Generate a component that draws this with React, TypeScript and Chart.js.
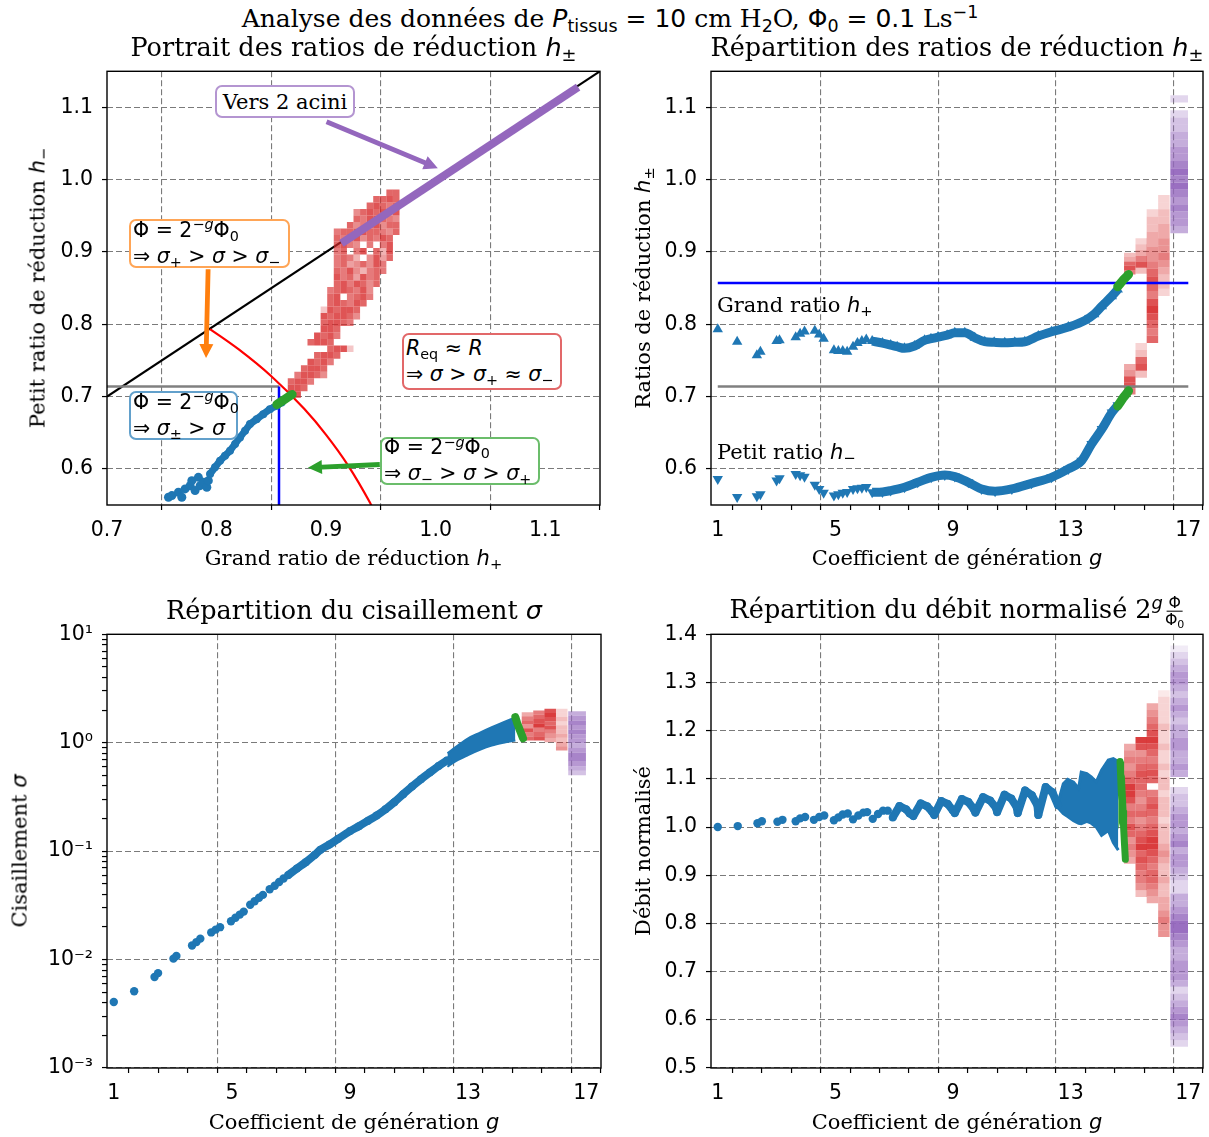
import React, { useEffect, useRef } from 'react';
import { Chart, registerables } from 'chart.js';

Chart.register(...registerables);

/* ======================= DATA ======================= */

// ---- shared axes ----
const gTicks = [1, 2, 3, 4, 5, 6, 7, 8, 9, 10, 11, 12, 13, 14, 15, 16, 17];
const gMajor = [1, 5, 9, 13, 17];
const gMajorLabels = ['1', '5', '9', '13', '17'];
const gRange = [0.77, 17.5];

const hTicks = [0.6, 0.7, 0.8, 0.9, 1.0, 1.1];
const hTickLabels = ['0.6', '0.7', '0.8', '0.9', '1.0', '1.1'];
const hRange = [0.55, 1.15];

const tlXTicks = [0.7, 0.8, 0.9, 1.0, 1.1];
const tlXTickLabels = ['0.7', '0.8', '0.9', '1.0', '1.1'];
const tlXRange = [0.7, 1.15];

const sigmaMajor = [0.001, 0.01, 0.1, 1, 10];
const sigmaMajorLabels = ['10⁻³', '10⁻²', '10⁻¹', '10⁰', '10¹'];
const sigmaMinor = [
  0.002, 0.003, 0.004, 0.005, 0.006, 0.007, 0.008, 0.009,
  0.02, 0.03, 0.04, 0.05, 0.06, 0.07, 0.08, 0.09,
  0.2, 0.3, 0.4, 0.5, 0.6, 0.7, 0.8, 0.9,
  2, 3, 4, 5, 6, 7, 8, 9,
];
const sigmaRange = [0.001, 10];

const debitTicks = [0.5, 0.6, 0.7, 0.8, 0.9, 1.0, 1.1, 1.2, 1.3, 1.4];
const debitTickLabels = ['0.5', '0.6', '0.7', '0.8', '0.9', '1.0', '1.1', '1.2', '1.3', '1.4'];
const debitRange = [0.5, 1.4];

// ---- column bins (generations 15-17) ----
const redColG = [15.01, 15.4, 15.78, 16.17];
const redColWidth = 0.39;
const purpleColG = 16.69;
const purpleColWidth = 0.6;

// ---- Panel TL : portrait h+ / h- ----
const tlDiagX = [0.7, 1.15];
const tlDiagY = [0.7, 1.15];
const tlMurrayX = [0.794, 0.82, 0.85, 0.88, 0.9, 0.92, 0.94, 0.9415];
const tlMurrayY = [0.7934, 0.7655, 0.7281, 0.683, 0.6471, 0.6049, 0.5534, 0.5489];
const tlGrayX = [0.7, 0.857];
const tlGrayY = [0.714, 0.714];
const tlBlueVX = [0.857, 0.857];
const tlBlueVY = [0.55, 0.714];
const tlAciniX = [0.914, 1.13];
const tlAciniY = [0.912, 1.128];
const tlBlueX = [0.7561, 0.7592, 0.7652, 0.7683, 0.7713, 0.7759, 0.7774, 0.7804, 0.7834, 0.785, 0.788, 0.7911, 0.7925];
const tlBlueY = [0.5607, 0.563, 0.5676, 0.5607, 0.5723, 0.5768, 0.5837, 0.57, 0.5883, 0.5768, 0.5814, 0.5745, 0.5837];
const tlBandX = [0.7941, 0.7986, 0.8032, 0.8077, 0.8123, 0.8169, 0.8214, 0.826, 0.8305, 0.8366, 0.8426, 0.8487, 0.8548, 0.8594];
const tlBandY = [0.593, 0.6021, 0.6113, 0.6182, 0.6251, 0.6344, 0.6434, 0.6527, 0.6619, 0.6688, 0.6757, 0.6826, 0.6872, 0.6917];
const tlGreenX = [0.855, 0.858, 0.861, 0.864, 0.867, 0.869];
const tlGreenY = [0.689, 0.692, 0.695, 0.698, 0.701, 0.703];
// 2D histogram (h+, h-) of the last generations: bin grid + per-row alpha digits
const tlCellX0 = 0.868;
const tlCellDX = 0.006;
const tlCellY0 = 0.703;
const tlCellDY = 0.009;
const tlRedRows: [number, string][] = [
  [0, '99'], [0, '998'], [0, '8997'], [1, '79986'], [2, '8998'], [3, '9897'], [4, '8998'],
  [6, '8993'], [3, '8998'], [4, '9897'], [5, '998'], [5, '89987'], [5, '989986'], [5, '398998'],
  [6, '898798'], [6, '8907897'], [6, '7898796'], [7, '8979868'], [7, '9785978'], [7, '87964787'],
  [7, '78568697'], [7, '787406958'], [7, '780790849'], [7, '897607079'], [7, '879968798'],
  [7, '7889988768'], [9, '86789688'], [10, '8799876'], [10, '6898969'], [12, '89878'],
  [13, '8898'], [15, '88'],
];
const tlArrowFrom = [[0.9004, 1.0803], [0.7923, 0.8761], [0.949, 0.606]];
const tlArrowTo = [[1.002, 1.0159], [0.7904, 0.7533], [0.8834, 0.6016]];

// ---- Panel TR : h+ / h- vs generation ----
const trClX = [1.0, 1.66, 2.33, 2.45, 3.0, 3.1, 3.65, 3.8, 3.95, 4.3, 4.45, 4.6, 4.95, 5.1, 5.25, 5.4, 5.6, 5.75, 5.9, 6.05];
const trHpClY = [0.793, 0.776, 0.757, 0.762, 0.777, 0.778, 0.782, 0.787, 0.79, 0.791, 0.786, 0.78, 0.764, 0.763, 0.763, 0.762, 0.769, 0.774, 0.777, 0.779];
const trHmClY = [0.586, 0.561, 0.562, 0.565, 0.584, 0.587, 0.593, 0.591, 0.589, 0.578, 0.572, 0.567, 0.563, 0.565, 0.567, 0.568, 0.572, 0.573, 0.574, 0.575];
const trHpX = [6.25, 6.6, 6.88, 7.1, 7.35, 7.69, 8.03, 8.25, 8.49, 8.8, 9.06, 9.4, 9.74, 10.08, 10.4, 10.76, 11.1, 11.44, 11.9, 12.35, 12.92, 13.49, 13.8, 14.06, 14.4, 14.6];
const trHpY = [0.7768, 0.774, 0.7713, 0.769, 0.7667, 0.7699, 0.7778, 0.78, 0.7823, 0.785, 0.7883, 0.7883, 0.7814, 0.7759, 0.775, 0.7745, 0.775, 0.7759, 0.7837, 0.7897, 0.7961, 0.8054, 0.814, 0.8251, 0.8389, 0.848];
const trHmX = [6.25, 6.6, 6.88, 7.35, 7.8, 8.26, 8.72, 9.06, 9.52, 9.97, 10.43, 11.0, 11.67, 12.35, 12.92, 13.37, 13.71, 14.06, 14.4, 14.6];
const trHmY = [0.5676, 0.568, 0.5699, 0.5745, 0.5814, 0.5883, 0.5916, 0.5893, 0.5814, 0.5722, 0.569, 0.5722, 0.58, 0.5883, 0.5999, 0.6113, 0.6343, 0.655, 0.6779, 0.688];
const trGreenX = [14.6, 14.7, 14.8, 14.9, 14.97];
const trGreenHpY = [0.852, 0.857, 0.862, 0.866, 0.869];
const trGreenHmY = [0.687, 0.693, 0.699, 0.704, 0.708];
const trRefX = [1, 17];
const trBlueRefY = [0.857, 0.857];
const trGrayRefY = [0.714, 0.714];
const trRedStacks: [number, number, number, string][] = [
  [0, 0.869, 0.899, '68743'],
  [0, 0.703, 0.745, '68854'],
  [1, 0.87, 0.919, '386432'],
  [1, 0.726, 0.774, '38732'],
  [2, 0.774, 0.959, '767898678765544332'],
  [3, 0.839, 0.979, '23345655443322'],
];
const trPurpleStacks: [number, number, string][] = [
  [0.926, 1.096, '45565676765544332'],
  [1.107, 1.117, '2'],
];

// ---- Panel BL : shear sigma ----
const blClX = [1.0, 1.69, 2.38, 2.5, 3.02, 3.12, 3.65, 3.8, 3.93, 4.3, 4.45, 4.6, 4.97, 5.12, 5.27, 5.4, 5.62, 5.77, 5.92, 6.05, 6.28, 6.45, 6.6, 6.75];
const blClY = [0.00406, 0.0051, 0.0069, 0.0075, 0.0102, 0.0108, 0.0135, 0.0145, 0.0156, 0.0178, 0.0189, 0.0199, 0.0226, 0.0243, 0.026, 0.0277, 0.032, 0.0345, 0.0372, 0.0395, 0.0445, 0.048, 0.052, 0.056];
const blLineX = [6.9, 7.2, 7.5, 7.8, 8.0, 8.3, 8.6, 9.0, 9.3, 9.6, 9.9, 10.2, 10.5, 10.8, 11.1, 11.4, 11.7, 12.0, 12.3];
const blLineY = [0.06, 0.069, 0.079, 0.092, 0.103, 0.115, 0.13, 0.153, 0.17, 0.19, 0.213, 0.243, 0.283, 0.335, 0.395, 0.46, 0.53, 0.61, 0.69];
const blBandX = [12.3, 12.6, 13.0, 13.4, 13.8, 14.2, 14.6];
const blBandHi = [0.8, 0.92, 1.1, 1.24, 1.39, 1.55, 1.72];
const blBandLo = [0.6, 0.68, 0.77, 0.86, 0.94, 1.0, 1.05];
const blGreenX = [14.6, 14.63, 14.66, 14.7, 14.74, 14.78, 14.82, 14.86];
const blGreenY = [1.72, 1.62, 1.52, 1.42, 1.33, 1.25, 1.17, 1.1];
const blRedStacks: [number, number, number, string][] = [
  [0, 1.05, 1.91, '7685764'],
  [1, 1.05, 1.98, '8769876'],
  [2, 1.01, 2.06, '45687898'],
  [3, 0.85, 2.06, '5434332322'],
];
const blPurpleStacks: [number, number, string][] = [[0.5, 1.95, '34566545565654']];

// ---- Panel BR : normalised flow ----
const brClX = [1.0, 1.68, 2.35, 2.5, 3.03, 3.2, 3.65, 3.8, 3.97, 4.27, 4.45, 4.62, 4.95, 5.1, 5.25, 5.42, 5.6, 5.78, 5.95, 6.08, 6.27, 6.45, 6.62, 6.78];
const brClY = [1.0, 1.002, 1.008, 1.012, 1.011, 1.015, 1.012, 1.018, 1.021, 1.015, 1.021, 1.024, 1.014, 1.02, 1.026, 1.028, 1.016, 1.024, 1.03, 1.031, 1.017, 1.027, 1.034, 1.034];
const brWaveX = [6.95, 7.18, 7.4, 7.53, 7.65, 7.9, 8.12, 8.29, 8.36, 8.6, 8.82, 8.99, 9.06, 9.3, 9.52, 9.7, 9.76, 10.02, 10.26, 10.46, 10.5, 10.75, 10.98, 11.16, 11.2, 11.45, 11.68, 11.87, 11.9, 12.15, 12.38, 12.57];
const brWaveY = [1.02, 1.0435, 1.037, 1.028, 1.023, 1.049, 1.043, 1.032, 1.025, 1.054, 1.048, 1.035, 1.029, 1.058, 1.052, 1.038, 1.03, 1.062, 1.055, 1.04, 1.031, 1.067, 1.059, 1.042, 1.029, 1.076, 1.066, 1.045, 1.025, 1.083, 1.072, 1.045];
const brBandX = [12.57, 12.75, 12.9, 13.1, 13.27, 13.36, 13.55, 13.7, 13.87, 14.05, 14.28, 14.45, 14.62];
const brBandHi = [1.05, 1.09, 1.099, 1.093, 1.08, 1.114, 1.111, 1.104, 1.094, 1.118, 1.139, 1.142, 1.136];
const brBandLo = [1.04, 1.028, 1.022, 1.013, 1.008, 1.007, 1.012, 1.008, 1.0, 0.983, 0.993, 0.968, 0.952];
const brGreenX = [14.68, 14.7, 14.72, 14.74, 14.76, 14.78, 14.8, 14.83, 14.86];
const brGreenY = [1.136, 1.105, 1.075, 1.055, 1.06, 1.035, 1.0, 0.965, 0.933];
const brRedStacks: [number, number, number, string][] = [
  [0, 0.924, 1.173, '456578676899765654'],
  [1, 0.855, 1.187, '356678798765765677876589'],
  [2, 0.842, 1.257, '456776789987678760787678987654'],
  [3, 0.772, 1.284, '5565443343345433323332332322322322221'],
];
const brPurpleStacks: [number, number, string][] = [
  [0.544, 1.083, '234565432455544567765442234554654554332'],
  [1.104, 1.377, '45445544345434554321'],
];

/* ======================= LAYOUT / STYLE ======================= */

type Rect = { L: number; T: number; W: number; H: number };
const RECT_TL: Rect = { L: 107, T: 70, W: 493, H: 435 };
const RECT_TR: Rect = { L: 711, T: 70, W: 492, H: 435 };
const RECT_BL: Rect = { L: 107, T: 633, W: 494, H: 435 };
const RECT_BR: Rect = { L: 711, T: 633, W: 492, H: 435 };
const YW = 100;
const XH = 50;
const PT = 20;
const PR = 24;

const SERIF = "'DejaVu Serif', serif";
const SANS = "'DejaVu Sans', sans-serif";
const BLUE = '#1f77b4';
const GREEN = '#2ca02c';
const PURPLE = '#9467bd';
const ORANGE = '#ff7f0e';
const RED_RGB = '214,39,40';
const PURPLE_RGB = '148,103,189';
const RED_GAIN = 0.88;
const PURPLE_GAIN = 1.35;

const xy = (xs: number[], ys: number[]) => xs.map((x, i) => ({ x, y: ys[i] }));

function makeScale(axis: 'x' | 'y', type: string, range: number[], ticks: number[], majors: number[], majorLabels: string[]) {
  const labels = new Map<number, string>(majors.map((v, i) => [v, majorLabels[i]]));
  return {
    type,
    min: range[0],
    max: range[1],
    offset: false,
    position: axis === 'x' ? 'bottom' : 'left',
    afterBuildTicks: (s: any) => {
      s.ticks = ticks.map((v) => ({ value: v }));
    },
    afterFit: (s: any) => {
      if (axis === 'x') s.height = XH;
      else s.width = YW;
    },
    ticks: {
      autoSkip: false,
      maxRotation: 0,
      minRotation: 0,
      padding: axis === 'x' ? 8 : 9,
      color: '#000',
      font: { family: SANS, size: 20.5 },
      callback: (v: number) => labels.get(v) ?? '',
    },
    grid: {
      color: (c: any) => (c.tick && labels.has(c.tick.value) ? '#7a7a7a' : 'rgba(0,0,0,0)'),
      lineWidth: 1.1,
      drawTicks: true,
      tickLength: 5,
      tickColor: '#000',
      tickWidth: 1.2,
    },
    border: { display: false, dash: [6, 3] },
  };
}

function baseOptions(x: any, y: any) {
  return {
    responsive: false,
    maintainAspectRatio: false,
    animation: false,
    events: [],
    layout: { padding: { left: 0, top: PT, right: PR, bottom: 0 } },
    plugins: { legend: { display: false }, tooltip: { enabled: false }, title: { display: false } },
    scales: { x, y },
  };
}

const framePlugin = {
  id: 'frame',
  afterDatasetsDraw(chart: any) {
    const { ctx, chartArea: a } = chart;
    ctx.save();
    ctx.strokeStyle = '#000';
    ctx.lineWidth = 1.4;
    ctx.strokeRect(a.left, a.top, a.right - a.left, a.bottom - a.top);
    ctx.restore();
  },
};

function arrowPlugin(froms: number[][], tos: number[][], colors: string[]) {
  return {
    id: 'arrows',
    afterDatasetsDraw(chart: any) {
      const { ctx, scales } = chart;
      ctx.save();
      froms.forEach((f, i) => {
        const x1 = scales.x.getPixelForValue(f[0]);
        const y1 = scales.y.getPixelForValue(f[1]);
        const x2 = scales.x.getPixelForValue(tos[i][0]);
        const y2 = scales.y.getPixelForValue(tos[i][1]);
        const len = Math.hypot(x2 - x1, y2 - y1);
        const ux = (x2 - x1) / len;
        const uy = (y2 - y1) / len;
        const hl = 14, hw = 7, sw = 2.4;
        const bx = x2 - ux * hl, by = y2 - uy * hl;
        ctx.fillStyle = colors[i];
        ctx.beginPath();
        ctx.moveTo(x1 - uy * sw, y1 + ux * sw);
        ctx.lineTo(bx - uy * sw, by + ux * sw);
        ctx.lineTo(bx - uy * hw, by + ux * hw);
        ctx.lineTo(x2, y2);
        ctx.lineTo(bx + uy * hw, by - ux * hw);
        ctx.lineTo(bx + uy * sw, by - ux * sw);
        ctx.lineTo(x1 + uy * sw, y1 - ux * sw);
        ctx.closePath();
        ctx.fill();
      });
      ctx.restore();
    },
  };
}

const lineDs = (data: any[], color: string, width: number, extra: any = {}) => ({
  type: 'line',
  data,
  borderColor: color,
  backgroundColor: color,
  borderWidth: width,
  pointRadius: 0,
  fill: false,
  tension: 0,
  ...extra,
});

const ptsDs = (data: any[], color: string, radius: number, style = 'circle', rot = 0) => ({
  type: 'scatter',
  data,
  backgroundColor: color,
  borderColor: color,
  pointBorderWidth: 0,
  borderWidth: 0,
  pointRadius: radius,
  pointStyle: style,
  pointRotation: rot,
});

const cellsDs = (cells: any[], rgb: string, thicknessPx: number, gain: number) => ({
  type: 'bar',
  data: cells,
  backgroundColor: (c: any) => `rgba(${rgb},${c.raw ? Math.min(0.95, c.raw.a * gain) : 0})`,
  borderWidth: 0,
  barThickness: thicknessPx,
  grouped: false,
  inflateAmount: 0,
});

function stackCells(g: number, lo: number, hi: number, alphas: string, log: boolean) {
  const out: any[] = [];
  const n = alphas.length;
  for (let i = 0; i < n; i++) {
    const a = +alphas[i] / 10;
    if (!a) continue;
    const y0 = log ? lo * Math.pow(hi / lo, i / n) : lo + ((hi - lo) * i) / n;
    const y1 = log ? lo * Math.pow(hi / lo, (i + 1) / n) : lo + ((hi - lo) * (i + 1)) / n;
    out.push({ x: g, y: [y0, y1], a });
  }
  return out;
}

function columnDatasets(r: Rect, redStacks: [number, number, number, string][], purpleStacks: [number, number, string][], log: boolean) {
  const pxPerG = r.W / (gRange[1] - gRange[0]);
  const red: any[] = [];
  redStacks.forEach(([ci, lo, hi, s]) => red.push(...stackCells(redColG[ci], lo, hi, s, log)));
  const purple: any[] = [];
  purpleStacks.forEach(([lo, hi, s]) => purple.push(...stackCells(purpleColG, lo, hi, s, log)));
  return [
    cellsDs(red, RED_RGB, redColWidth * pxPerG, 1),
    cellsDs(purple, PURPLE_RGB, purpleColWidth * pxPerG, PURPLE_GAIN),
  ];
}

/* ======================= CHART CONFIGS ======================= */

function buildTL(r: Rect) {
  const pxPerX = r.W / (tlXRange[1] - tlXRange[0]);
  const red: any[] = [];
  tlRedRows.forEach(([c0, s], ri) => {
    for (let i = 0; i < s.length; i++) {
      const a = +s[i] / 10;
      if (!a) continue;
      const cx = tlCellX0 + (c0 + i) * tlCellDX;
      const cy = tlCellY0 + ri * tlCellDY;
      red.push({ x: cx, y: [cy - tlCellDY / 2, cy + tlCellDY / 2], a });
    }
  });
  return {
    type: 'scatter',
    data: {
      datasets: [
        lineDs(xy(tlGreenX, tlGreenY), GREEN, 9, { borderCapStyle: 'round' }),
        lineDs(xy(tlBandX, tlBandY), BLUE, 7, { pointRadius: 4, pointBackgroundColor: BLUE, pointBorderWidth: 0, borderCapStyle: 'round', borderJoinStyle: 'round' }),
        ptsDs(xy(tlBlueX, tlBlueY), BLUE, 4.5),
        lineDs(xy(tlAciniX, tlAciniY), PURPLE, 8),
        cellsDs(red, RED_RGB, tlCellDX * pxPerX, RED_GAIN),
        lineDs(xy(tlBlueVX, tlBlueVY), '#0000ff', 2.5),
        lineDs(xy(tlGrayX, tlGrayY), '#808080', 2.5),
        lineDs(xy(tlMurrayX, tlMurrayY), '#ff0000', 2.2, { cubicInterpolationMode: 'monotone' }),
        lineDs(xy(tlDiagX, tlDiagY), '#000000', 2.2),
      ],
    },
    options: baseOptions(
      makeScale('x', 'linear', tlXRange, tlXTicks, tlXTicks, tlXTickLabels),
      makeScale('y', 'linear', hRange, hTicks, hTicks, hTickLabels),
    ),
    plugins: [arrowPlugin(tlArrowFrom, tlArrowTo, [PURPLE, ORANGE, GREEN]), framePlugin],
  };
}

function buildTR(r: Rect) {
  const tri = { pointStyle: 'triangle', pointRadius: 6, pointBackgroundColor: BLUE, pointBorderWidth: 0, borderJoinStyle: 'round', cubicInterpolationMode: 'monotone' };
  return {
    type: 'scatter',
    data: {
      datasets: [
        lineDs(xy(trGreenX, trGreenHpY), GREEN, 9, { borderCapStyle: 'round' }),
        lineDs(xy(trGreenX, trGreenHmY), GREEN, 9, { borderCapStyle: 'round' }),
        lineDs(xy(trHpX, trHpY), BLUE, 9, { ...tri, pointRotation: 0 }),
        ptsDs(xy(trClX, trHpClY), BLUE, 6, 'triangle', 0),
        lineDs(xy(trHmX, trHmY), BLUE, 9, { ...tri, pointRotation: 180 }),
        ptsDs(xy(trClX, trHmClY), BLUE, 6, 'triangle', 180),
        lineDs(xy(trRefX, trBlueRefY), '#0000ff', 2.5),
        lineDs(xy(trRefX, trGrayRefY), '#808080', 2.5),
        ...columnDatasets(r, trRedStacks, trPurpleStacks, false),
      ],
    },
    options: baseOptions(
      makeScale('x', 'linear', gRange, gTicks, gMajor, gMajorLabels),
      makeScale('y', 'linear', hRange, hTicks, hTicks, hTickLabels),
    ),
    plugins: [framePlugin],
  };
}

function buildBL(r: Rect) {
  return {
    type: 'scatter',
    data: {
      datasets: [
        lineDs(xy(blGreenX, blGreenY), GREEN, 8, { borderCapStyle: 'round' }),
        lineDs(xy(blLineX, blLineY), BLUE, 8, { pointRadius: 4, pointBackgroundColor: BLUE, pointBorderWidth: 0, cubicInterpolationMode: 'monotone' }),
        ptsDs(xy(blClX, blClY), BLUE, 4.2),
        lineDs(xy(blBandX, blBandHi), BLUE, 2, { fill: '+1', cubicInterpolationMode: 'monotone' }),
        lineDs(xy(blBandX, blBandLo), BLUE, 2, { cubicInterpolationMode: 'monotone' }),
        ...columnDatasets(r, blRedStacks, blPurpleStacks, true),
      ],
    },
    options: baseOptions(
      makeScale('x', 'linear', gRange, gTicks, gMajor, gMajorLabels),
      makeScale('y', 'logarithmic', sigmaRange, [...sigmaMajor, ...sigmaMinor].sort((a, b) => a - b), sigmaMajor, sigmaMajorLabels),
    ),
    plugins: [framePlugin],
  };
}

function buildBR(r: Rect) {
  return {
    type: 'scatter',
    data: {
      datasets: [
        lineDs(xy(brGreenX, brGreenY), GREEN, 7, { borderCapStyle: 'round' }),
        lineDs(xy(brWaveX, brWaveY), BLUE, 8, { pointRadius: 4, pointBackgroundColor: BLUE, pointBorderWidth: 0, borderJoinStyle: 'round' }),
        ptsDs(xy(brClX, brClY), BLUE, 4.2),
        lineDs(xy(brBandX, brBandHi), BLUE, 3, { fill: '+1' }),
        lineDs(xy(brBandX, brBandLo), BLUE, 3),
        ...columnDatasets(r, brRedStacks, brPurpleStacks, false),
      ],
    },
    options: baseOptions(
      makeScale('x', 'linear', gRange, gTicks, gMajor, gMajorLabels),
      makeScale('y', 'linear', debitRange, debitTicks, debitTicks, debitTickLabels),
    ),
    plugins: [framePlugin],
  };
}

/* ======================= COMPONENTS ======================= */

function ChartPanel({ rect, build }: { rect: Rect; build: (r: Rect) => any }) {
  const ref = useRef<HTMLCanvasElement>(null);
  const w = rect.W + YW + PR;
  const h = rect.H + PT + XH;
  useEffect(() => {
    const chart = new Chart(ref.current as HTMLCanvasElement, build(rect) as any);
    return () => chart.destroy();
  }, []);
  return (
    <canvas
      ref={ref}
      width={w}
      height={h}
      style={{ position: 'absolute', left: rect.L - YW, top: rect.T - PT, width: w, height: h }}
    />
  );
}

const It = ({ children }: any) => <span style={{ fontFamily: SANS, fontStyle: 'italic' }}>{children}</span>;
const Mt = ({ children }: any) => <span style={{ fontFamily: SANS }}>{children}</span>;
const Sb = ({ children }: any) => (
  <span style={{ fontFamily: SANS, fontSize: '70%', position: 'relative', top: '0.3em' }}>{children}</span>
);
const Sp = ({ children }: any) => (
  <span style={{ fontFamily: SANS, fontSize: '70%', position: 'relative', top: '-0.5em' }}>{children}</span>
);

function Txt({ x, y, size, rot, left, children }: any) {
  const tr = left ? 'translate(0,-50%)' : `translate(-50%,-50%)${rot ? ' rotate(-90deg)' : ''}`;
  return (
    <div
      style={{
        position: 'absolute',
        left: x,
        top: y,
        transform: tr,
        fontFamily: SERIF,
        fontSize: size,
        whiteSpace: 'nowrap',
        lineHeight: 1,
        color: '#000',
      }}
    >
      {children}
    </div>
  );
}

function Box({ left, top, width, height, color, center, children }: any) {
  return (
    <div
      style={{
        position: 'absolute',
        left,
        top,
        width,
        height,
        boxSizing: 'border-box',
        border: `2px solid ${color}`,
        borderRadius: 7,
        background: '#fff',
        fontFamily: SANS,
        fontSize: 20.5,
        lineHeight: '24px',
        paddingLeft: center ? 0 : 2,
        display: 'flex',
        flexDirection: 'column',
        justifyContent: 'center',
        alignItems: center ? 'center' : 'flex-start',
        whiteSpace: 'nowrap',
        color: '#000',
      }}
    >
      {children}
    </div>
  );
}

const PhiLine = () => (
  <div>
    <Mt>Φ = 2</Mt>
    <Sp>
      −<It>g</It>
    </Sp>
    <Mt>Φ</Mt>
    <Sb>0</Sb>
  </div>
);

export default function App() {
  const TS = 25.5; // title size
  const LS = 21; // label size
  return (
    <div style={{ position: 'fixed', left: 0, top: 0, width: 1209, height: 1137, background: '#fff', overflow: 'hidden' }}>
      <ChartPanel rect={RECT_TL} build={buildTL} />
      <ChartPanel rect={RECT_TR} build={buildTR} />
      <ChartPanel rect={RECT_BL} build={buildBL} />
      <ChartPanel rect={RECT_BR} build={buildBR} />

      {/* Figure title */}
      <Txt x={610} y={18} size={25}>
        Analyse des données de <It>P</It>
        <Sb>tissus</Sb>
        <Mt> = 10</Mt> cm H<Sb>2</Sb>O, <Mt>Φ</Mt>
        <Sb>0</Sb>
        <Mt> = 0.1</Mt> Ls<Sp>−1</Sp>
      </Txt>

      {/* Titles */}
      <Txt x={RECT_TL.L + RECT_TL.W / 2} y={RECT_TL.T - 22} size={TS}>
        Portrait des ratios de réduction <It>h</It>
        <Sb>±</Sb>
      </Txt>
      <Txt x={RECT_TR.L + RECT_TR.W / 2} y={RECT_TR.T - 22} size={TS}>
        Répartition des ratios de réduction <It>h</It>
        <Sb>±</Sb>
      </Txt>
      <Txt x={RECT_BL.L + RECT_BL.W / 2} y={RECT_BL.T - 22} size={TS}>
        Répartition du cisaillement <It>σ</It>
      </Txt>
      <Txt x={RECT_BR.L + RECT_BR.W / 2} y={RECT_BR.T - 22} size={TS}>
        Répartition du débit normalisé 2<Sp><It>g</It></Sp>
        <span
          style={{
            display: 'inline-flex',
            flexDirection: 'column',
            alignItems: 'center',
            verticalAlign: 'middle',
            fontFamily: SANS,
            fontSize: '0.62em',
            lineHeight: 1,
            marginLeft: 2,
          }}
        >
          <span style={{ borderBottom: '1px solid #000', padding: '0 2px' }}>Φ</span>
          <span>
            Φ<span style={{ fontSize: '70%', position: 'relative', top: '0.3em' }}>0</span>
          </span>
        </span>
      </Txt>

      {/* Axis labels */}
      <Txt x={RECT_TL.L + RECT_TL.W / 2} y={558} size={LS}>
        Grand ratio de réduction <It>h</It>
        <Sb>+</Sb>
      </Txt>
      <Txt x={38} y={RECT_TL.T + RECT_TL.H / 2} size={LS} rot>
        Petit ratio de réduction <It>h</It>
        <Sb>−</Sb>
      </Txt>
      <Txt x={RECT_TR.L + RECT_TR.W / 2} y={558} size={LS}>
        Coefficient de génération <It>g</It>
      </Txt>
      <Txt x={643} y={RECT_TR.T + RECT_TR.H / 2} size={LS} rot>
        Ratios de réduction <It>h</It>
        <Sb>±</Sb>
      </Txt>
      <Txt x={RECT_BL.L + RECT_BL.W / 2} y={1122} size={LS}>
        Coefficient de génération <It>g</It>
      </Txt>
      <Txt x={20} y={RECT_BL.T + RECT_BL.H / 2} size={LS} rot>
        Cisaillement <It>σ</It>
      </Txt>
      <Txt x={RECT_BR.L + RECT_BR.W / 2} y={1122} size={LS}>
        Coefficient de génération <It>g</It>
      </Txt>
      <Txt x={643} y={RECT_BR.T + RECT_BR.H / 2} size={LS} rot>
        Débit normalisé
      </Txt>

      {/* TR curve labels */}
      <Txt x={717} y={305} size={LS} left>
        Grand ratio <It>h</It>
        <Sb>+</Sb>
      </Txt>
      <Txt x={717} y={452} size={LS} left>
        Petit ratio <It>h</It>
        <Sb>−</Sb>
      </Txt>

      {/* TL annotation boxes */}
      <Box left={215} top={85} width={140} height={33} color="#b495d1" center>
        <span style={{ fontFamily: SERIF, fontSize: 21 }}>Vers 2 acini</span>
      </Box>
      <Box left={129} top={219} width={161} height={49} color="#ffa556">
        <PhiLine />
        <div>
          ⇒ <It>σ</It>
          <Sb>+</Sb> &gt; <It>σ</It> &gt; <It>σ</It>
          <Sb>−</Sb>
        </div>
      </Box>
      <Box left={129} top={391} width={109} height={49} color="#62a0cb">
        <PhiLine />
        <div>
          ⇒ <It>σ</It>
          <Sb>±</Sb> &gt; <It>σ</It>
        </div>
      </Box>
      <Box left={402} top={333} width={160} height={57} color="#e26869">
        <div>
          <It>R</It>
          <Sb>eq</Sb> ≈ <It>R</It>
        </div>
        <div>
          ⇒ <It>σ</It> &gt; <It>σ</It>
          <Sb>+</Sb> ≈ <It>σ</It>
          <Sb>−</Sb>
        </div>
      </Box>
      <Box left={380} top={437} width={160} height={48} color="#6bbd6b">
        <PhiLine />
        <div>
          ⇒ <It>σ</It>
          <Sb>−</Sb> &gt; <It>σ</It> &gt; <It>σ</It>
          <Sb>+</Sb>
        </div>
      </Box>
    </div>
  );
}
